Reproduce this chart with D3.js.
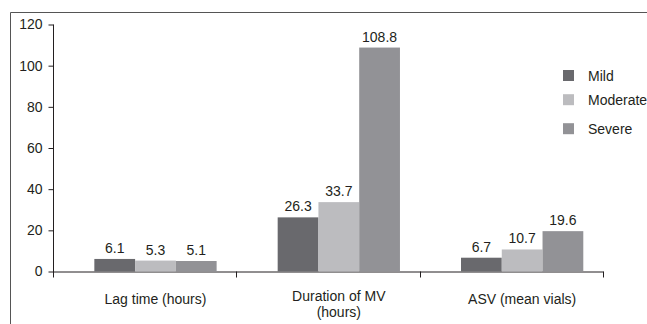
<!DOCTYPE html>
<html>
<head>
<meta charset="utf-8">
<script src="https://cdn.jsdelivr.net/npm/d3@7"></script>
<style>
  html, body { margin: 0; padding: 0; background: #fff; overflow: hidden; }
  svg { display: block; }
  text { font-family: "Liberation Sans", Arial, sans-serif; fill: #231f20; }
</style>
</head>
<body>
<svg id="chart" width="647" height="324"></svg>
<script>
const categories = ["Lag time (hours)", "Duration of MV\n(hours)", "ASV (mean vials)"];
const seriesNames = ["Mild", "Moderate", "Severe"];
const mild = [6.1, 26.3, 6.7];
const moderate = [5.3, 33.7, 10.7];
const severe = [5.1, 108.8, 19.6];
const yTicks = [0, 20, 40, 60, 80, 100, 120];
const colors = ["#69696d", "#bcbcbf", "#929296"];

const seriesValues = [mild, moderate, severe];
const svg = d3.select("#chart");

// outer frame (left and top edges visible; right/bottom fall outside the picture)
svg.append("path")
  .attr("d", "M10.5,324V12.5H647")
  .attr("fill", "none").attr("stroke", "#555").attr("stroke-width", 1);

const x0 = d3.scaleBand().domain(categories).range([53, 603]).padding(0);
const bw = x0.bandwidth();
const x1 = d3.scaleBand().domain(seriesNames).range([bw * 0.2255, bw * 0.8925]).padding(0);
const y = d3.scaleLinear().domain([0, 120]).range([271.5, 24.5]);

// y axis
const yAxis = svg.append("g").attr("transform", "translate(53.5,0)")
  .call(d3.axisLeft(y).tickValues(yTicks).tickSize(5).tickPadding(6).tickFormat(d3.format("d")));
yAxis.select(".domain").attr("d", `M0,${y(120)}V${y(0) + 6}`).attr("stroke", "#231f20");
yAxis.selectAll(".tick line").attr("stroke", "#231f20");
yAxis.selectAll(".tick text").style("font-size", "14px").attr("fill", "#231f20");

// x axis
const xAxisG = svg.append("g").attr("transform", `translate(0,${y(0)})`);
xAxisG.append("path").attr("d", `M53,0.5H603.5`).attr("stroke", "#231f20").attr("fill", "none");
const boundaries = categories.map(c => x0(c)).concat([x0(categories[categories.length - 1]) + bw]).slice(1);
xAxisG.selectAll("line.tk").data(boundaries).join("line")
  .attr("class", "tk")
  .attr("x1", d => Math.round(d) + 0.5).attr("x2", d => Math.round(d) + 0.5)
  .attr("y1", 0).attr("y2", 6).attr("stroke", "#231f20");

// bars
const groups = svg.append("g").selectAll("g").data(categories).join("g")
  .attr("transform", c => `translate(${x0(c)},0)`);
groups.selectAll("rect").data((c, i) => seriesNames.map((s, j) => ({ s, v: seriesValues[j][i], j })))
  .join("rect")
  .attr("x", d => x1(d.s)).attr("width", x1.bandwidth())
  .attr("y", d => y(d.v)).attr("height", d => y(0) - y(d.v))
  .attr("fill", d => colors[d.j]);
groups.selectAll("text.val").data((c, i) => seriesNames.map((s, j) => ({ s, v: seriesValues[j][i], j })))
  .join("text").attr("class", "val")
  .attr("x", d => x1(d.s) + x1.bandwidth() / 2)
  .attr("y", d => y(d.v) - 6)
  .attr("text-anchor", "middle")
  .style("font-size", "14px")
  .text(d => d3.format(".1f")(d.v));

// category labels
groups.append("text")
  .attr("x", (bw * 0.2255 + bw * 0.8925) / 2)
  .attr("text-anchor", "middle")
  .style("font-size", "14px")
  .each(function (c) {
    const lines = c.split("\n");
    const t = d3.select(this);
    const startY = lines.length > 1 ? 300.5 : 304;
    lines.forEach((ln, k) => t.append("tspan")
      .attr("x", (bw * 0.2255 + bw * 0.8925) / 2)
      .attr("y", startY + k * 16.5).text(ln));
  });

// legend
const legendY = [75.5, 99.7, 128.7];
const legend = svg.append("g").selectAll("g").data(seriesNames).join("g")
  .attr("transform", (d, i) => `translate(563,${legendY[i]})`);
legend.append("rect").attr("x", 0).attr("y", -5.5).attr("width", 11).attr("height", 11)
  .attr("fill", (d, i) => colors[i]);
legend.append("text").attr("x", 25).attr("y", 5)
  .style("font-size", "14px").text(d => d);
</script>
</body>
</html>
